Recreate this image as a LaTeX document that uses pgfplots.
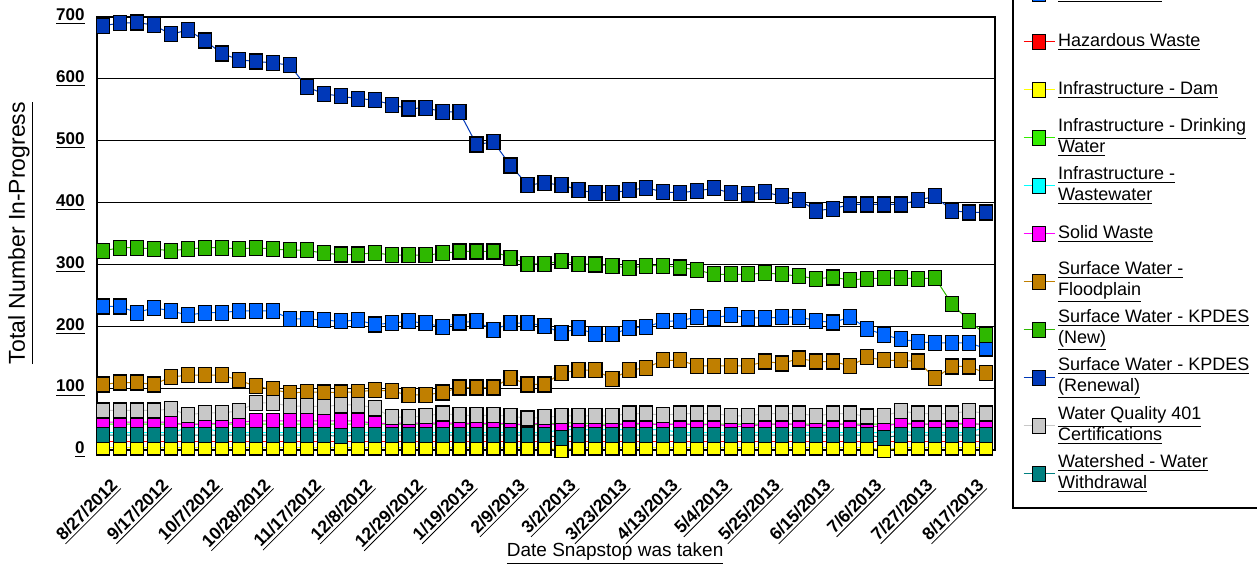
\documentclass[border=0pt]{standalone}
\usepackage{fontspec}
\setmainfont{Liberation Sans}
\usepackage{pgfplots}
\usepackage{pgfplotstable}
\pgfplotsset{compat=1.18}

\definecolor{cGW}{HTML}{0066FF}
\definecolor{cHaz}{HTML}{FF0000}
\definecolor{cDam}{HTML}{FFFF00}
\definecolor{cDrink}{HTML}{33EE00}
\definecolor{cWW}{HTML}{00FFFF}
\definecolor{cSolid}{HTML}{FF00FF}
\definecolor{cFlood}{HTML}{C07F00}
\definecolor{cNew}{HTML}{2EB800}
\definecolor{cRenew}{HTML}{0038B8}
\definecolor{cWQ}{HTML}{C8C8C8}
\definecolor{cShed}{HTML}{008080}

% weekly snapshots, 8/27/2012 onwards (i = week number)
\pgfplotstableread{
i  gw  haz dam drink ww solid flood new renew wq shed
0  232 13 4 42 28 45 106 322 686 64 24
1  232 13 4 42 28 45 109 327 690 64 24
2  222 13 4 42 28 45 109 327 691 64 24
3  230 13 4 42 28 45 106 325 687 64 24
4  225 13 4 42 28 45 118 322 672 66 24
5  218 13 4 42 36 40 121 325 679 57 24
6  222 13 4 42 36 43 121 327 662 60 24
7  222 13 4 42 28 43 121 327 641 60 24
8  225 13 4 42 28 45 113 325 631 63 24
9  225 13 4 42 28 47 103 327 628 76 24
10 225 13 4 42 28 47 98  325 626 76 24
11 212 13 4 42 28 47 92  323 622 71 24
12 212 13 4 42 28 47 94  323 587 71 24
13 210 13 4 42 28 47 93  318 576 70 24
14 208 13 4 42 28 47 93  316 572 73 22
15 210 13 4 42 28 47 94  316 568 73 24
16 203 13 4 42 28 43 97  319 566 68 24
17 205 13 4 42 28 43 95  315 558 53 24
18 208 13 4 42 28 44 89  315 552 53 24
19 205 13 4 42 28 43 89  315 553 55 24
20 199 13 4 42 28 44 93  318 547 59 24
21 206 13 4 42 28 43 101 321 546 56 24
22 208 13 4 42 28 43 101 321 494 56 24
23 194 13 4 42 28 43 101 321 498 56 24
24 205 13 4 42 28 43 117 311 460 55 24
25 205 13 4 40 28 40 106 301 429 51 24
26 201 13 4 42 28 45 106 301 431 53 24
27 189 13 0 44 33 38 125 305 429 55 20
28 197 13 4 44 33 38 129 301 420 55 24
29 187 13 4 42 33 40 129 300 416 55 24
30 187 13 4 42 33 40 115 298 416 55 24
31 197 13 4 42 33 43 129 294 420 59 24
32 199 13 4 42 33 43 133 298 424 59 24
33 208 13 4 42 33 40 145 298 417 56 24
34 209 13 4 42 28 43 145 295 416 59 24
35 215 13 4 42 28 40 136 291 419 59 24
36 214 13 4 42 28 42 136 284 423 59 24
37 218 13 4 42 28 38 136 284 415 55 24
38 214 13 4 42 28 38 136 284 414 55 24
39 213 13 4 42 28 42 143 286 417 59 24
40 215 13 4 42 28 42 140 284 410 59 24
41 215 13 4 42 28 42 148 281 404 59 24
42 209 13 4 42 28 38 143 277 387 55 24
43 206 13 4 42 28 42 143 279 390 59 24
44 215 13 4 42 28 42 136 275 397 59 24
45 196 13 4 42 28 38 150 277 397 54 24
46 186 13 0 42 28 38 145 278 397 55 20
47 179 13 4 42 30 44 145 278 397 63 24
48 175 13 4 42 28 42 143 277 404 59 24
49 173 13 4 42 28 42 116 278 410 59 24
50 173 13 4 42 28 42 135 236 387 59 24
51 173 13 4 42 28 44 135 209 384 63 24
52 164 13 4 42 38 40 124 186 384 59 24
}\snapshots

\newcommand{\legone}[1]{\parbox[c][20pt][c]{112pt}{\fontsize{9}{10.5}\selectfont\underline{#1}}}
\newcommand{\legtwo}[2]{\parbox[c][20pt][c]{112pt}{\fontsize{9}{10.5}\selectfont\underline{#1}\\\underline{#2}}}

\pgfplotsset{
  series/.style={color=#1, line width=0.5pt, mark=square*,
    mark options={fill=#1, draw=black, line width=0.6pt, xscale=0.87, solid}},
}

\begin{document}
\begin{tikzpicture}
\useasboundingbox (0,0) rectangle (628.5pt,283.5pt);
\clip (0,0) rectangle (628.5pt,283.5pt);
\begin{axis}[
  at={(48.5pt,58.5pt)}, anchor=south west,
  scale only axis, width=449pt, height=216.5pt,
  xmin=-0.35, xmax=52.53, ymin=0, ymax=700,
  clip=false,
  axis line style={black, line width=0.7pt},
  ymajorgrids, grid style={black, line width=0.5pt},
  major tick length=0pt,
  mark size=3.75pt,
  xtick={0,3,...,51},
  xticklabels={\underline{8/27/2012},\underline{9/17/2012},\underline{10/7/2012},
    \underline{10/28/2012},\underline{11/17/2012},\underline{12/8/2012},
    \underline{12/29/2012},\underline{1/19/2013},\underline{2/9/2013},
    \underline{3/2/2013},\underline{3/23/2013},\underline{4/13/2013},
    \underline{5/4/2013},\underline{5/25/2013},\underline{6/15/2013},
    \underline{7/6/2013},\underline{7/27/2013},\underline{8/17/2013}},
  xticklabel style={font=\bfseries\fontsize{8.8}{9}\selectfont,
    xshift=6.5pt, yshift=-16.5pt, rotate=45, anchor=east, inner sep=0pt},
  ytick={0,100,...,700},
  yticklabels={\underline{0},\underline{100},\underline{200},\underline{300},
    \underline{400},\underline{500},\underline{600},\underline{700}},
  yticklabel style={font=\bfseries\fontsize{8.5}{9}\selectfont, anchor=east,
    xshift=-6pt, inner sep=0pt},
  xlabel={\underline{Date Snapstop was taken}},
  xlabel style={at={(axis description cs:0.577,-0.24)}, anchor=center,
    font=\fontsize{9.5}{10}\selectfont},
  ylabel={\underline{Total Number In-Progress}},
  ylabel style={at={(axis description cs:-0.0846,0.501)}, anchor=center,
    font=\fontsize{11.5}{12}\selectfont},
  legend cell align=left,
  legend image code/.code={%
    \draw[#1, mark repeat=2, mark phase=2]
      plot coordinates {(0pt,0pt) (7.75pt,0pt) (15.5pt,0pt)};},
  legend style={at={(axis description cs:1.019,-0.1362)}, anchor=south west,
    draw=black, line width=1pt, fill=white,
    inner xsep=5pt, inner ysep=7pt, row sep=4pt, column sep=1.5pt,
    nodes={inner sep=0pt, text depth=}},
]
\addplot[series=cGW]    table[x=i, y=gw]    {\snapshots};
\addlegendentry{\legone{Groundwater}}
\addplot[series=cHaz]   table[x=i, y=haz]   {\snapshots};
\addlegendentry{\legone{Hazardous Waste}}
\addplot[series=cDam]   table[x=i, y=dam]   {\snapshots};
\addlegendentry{\legone{Infrastructure - Dam}}
\addplot[series=cDrink] table[x=i, y=drink] {\snapshots};
\addlegendentry{\legtwo{Infrastructure - Drinking}{Water}}
\addplot[series=cWW]    table[x=i, y=ww]    {\snapshots};
\addlegendentry{\legtwo{Infrastructure -}{Wastewater}}
\addplot[series=cSolid] table[x=i, y=solid] {\snapshots};
\addlegendentry{\legone{Solid Waste}}
\addplot[series=cFlood] table[x=i, y=flood] {\snapshots};
\addlegendentry{\legtwo{Surface Water -}{Floodplain}}
\addplot[series=cNew]   table[x=i, y=new]   {\snapshots};
\addlegendentry{\legtwo{Surface Water - KPDES}{(New)}}
\addplot[series=cRenew] table[x=i, y=renew] {\snapshots};
\addlegendentry{\legtwo{Surface Water - KPDES}{(Renewal)}}
\addplot[series=cWQ]    table[x=i, y=wq]    {\snapshots};
\addlegendentry{\legtwo{Water Quality 401}{Certifications}}
\addplot[series=cShed]  table[x=i, y=shed]  {\snapshots};
\addlegendentry{\legtwo{Watershed - Water}{Withdrawal}}
\end{axis}
\end{tikzpicture}
\end{document}
